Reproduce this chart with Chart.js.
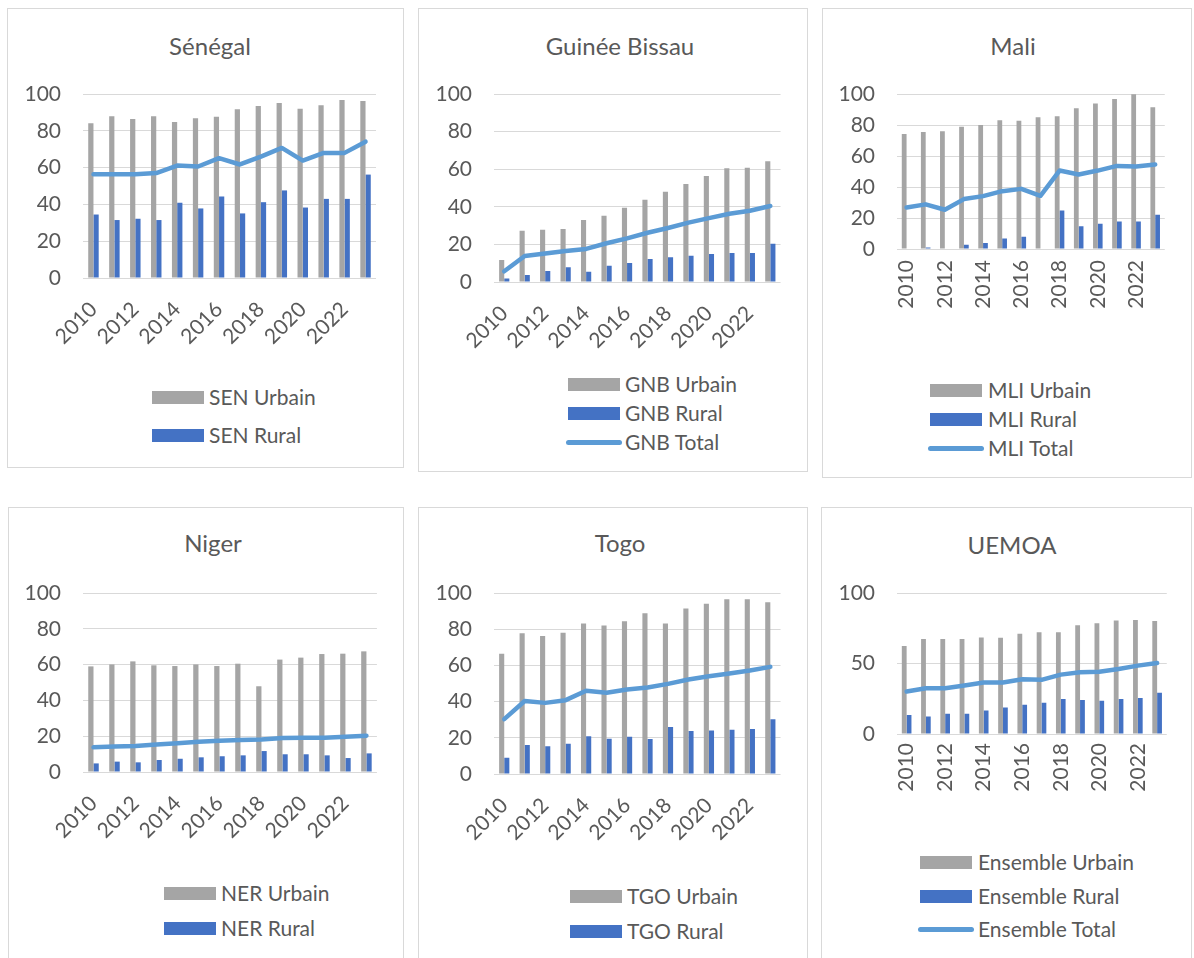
<!DOCTYPE html>
<html lang="fr">
<head>
<meta charset="utf-8">
<title>Urbain / Rural / Total – UEMOA</title>
<script src="https://cdn.jsdelivr.net/npm/chart.js@4.4.1/dist/chart.umd.min.js"></script>
<style>
  body { margin: 0; background: #fff; width: 1194px; height: 958px; overflow: hidden; position: relative; font-family: Lato, "Open Sans", sans-serif; color: #595959; }
  .panel { position: absolute; border: 1.5px solid #d9d9d9; box-sizing: border-box; }
  canvas { position: absolute; }
  .ttl { position: absolute; font-size: 24px; line-height: 1; white-space: nowrap; transform: translate(-50%, -50%); }
  .sw { position: absolute; height: 13px; width: 52px; }
  .sw.line { height: 5px; width: 56px; border-radius: 3px; }
  .lt { position: absolute; font-size: 21px; line-height: 24px; white-space: nowrap; }
</style>
</head>
<body>
<script>
const years = ["2010", "2011", "2012", "2013", "2014", "2015", "2016", "2017", "2018", "2019", "2020", "2021", "2022", "2023"];

// Sénégal
const senUrbain = [84.1, 87.9, 86.4, 87.9, 84.8, 86.8, 87.7, 91.7, 93.5, 95.1, 92.0, 93.9, 96.7, 96.2];
const senRural = [34.5, 31.5, 32.2, 31.5, 40.9, 37.8, 44.3, 35.1, 41.2, 47.6, 38.3, 43.0, 43.0, 56.2];
const senTotal = [56.4, 56.4, 56.4, 57.0, 61.1, 60.6, 65.1, 61.7, 66.0, 70.7, 63.8, 68.0, 68.0, 74.1];

// Guinée Bissau
const gnbUrbain = [11.7, 27.3, 27.8, 28.2, 33.0, 35.3, 39.5, 43.8, 48.0, 52.1, 56.4, 60.5, 60.8, 64.2];
const gnbRural = [1.8, 3.7, 5.9, 7.8, 5.5, 8.7, 10.1, 12.2, 13.1, 14.0, 14.9, 15.4, 15.4, 20.4];
const gnbTotal = [5.7, 13.8, 15.2, 16.5, 17.6, 20.6, 23.2, 26.2, 28.7, 31.6, 34.0, 36.3, 37.9, 40.4];

// Mali
const mliUrbain = [74.2, 75.5, 75.9, 78.8, 80.0, 83.0, 82.8, 85.0, 85.6, 90.8, 93.8, 96.8, 99.8, 91.4];
const mliRural = [null, 0.9, null, 2.8, 3.9, 6.7, 7.9, null, 24.9, 14.6, 16.3, 17.8, 17.8, 22.1];
const mliTotal = [26.8, 28.8, 25.3, 32.2, 34.1, 37.3, 38.8, 34.3, 50.6, 48.1, 50.6, 53.6, 53.2, 54.5];

// Niger
const nerUrbain = [59.0, 60.1, 61.8, 59.6, 59.2, 60.1, 59.2, 60.5, 47.9, 62.8, 63.9, 65.9, 66.1, 67.4];
const nerRural = [4.8, 5.8, 5.4, 6.7, 7.4, 8.2, 8.8, 9.3, 11.7, 9.9, 9.9, 9.3, 7.8, 10.4];
const nerTotal = [13.8, 14.3, 14.5, 15.3, 16.0, 16.9, 17.5, 17.9, 18.1, 19.0, 19.2, 19.2, 19.7, 20.3];

// Togo
const tgoUrbain = [66.4, 77.8, 76.3, 78.1, 83.1, 82.0, 84.4, 88.8, 83.1, 91.5, 94.1, 96.5, 96.5, 94.9];
const tgoRural = [9.0, 16.0, 15.4, 16.7, 20.8, 19.5, 20.6, 19.3, 25.9, 23.7, 24.1, 24.4, 24.8, 30.3];
const tgoTotal = [30.3, 40.3, 39.3, 40.8, 46.0, 44.9, 46.7, 47.8, 49.8, 52.2, 54.0, 55.5, 57.2, 59.2];

// UEMOA (ensemble)
const uemUrbain = [62.4, 67.3, 67.3, 67.3, 68.5, 68.2, 71.1, 72.2, 72.2, 77.2, 78.6, 80.5, 80.9, 80.2];
const uemRural = [13.4, 12.5, 14.4, 14.4, 16.7, 18.8, 20.7, 22.1, 24.9, 24.2, 23.5, 24.9, 25.6, 29.2];
const uemTotal = [30.1, 32.5, 32.5, 34.4, 36.5, 36.5, 38.8, 38.4, 42.1, 43.8, 44.2, 46.1, 48.5, 50.4];

const yTicksStep = { sen: 20, gnb: 20, mli: 20, ner: 20, tgo: 20, uem: 50 };

const COL_URB = "#a5a5a5";
const COL_RUR = "#4472c4";
const COL_TOT = "#5b9bd5";

Chart.defaults.font.family = "Lato, 'Open Sans', sans-serif";
Chart.defaults.color = "#595959";

// mise en page des 6 cadres (pixels de la page)
const panels = [
  { id: "sen", title: "Sénégal", box: [7, 8, 404, 468], plot: [83, 94, 376, 278], tx: 210, ty: 46, bottom: 365, rot: 45, xpad: 19,
    data: [senUrbain, senRural, senTotal], names: ["SEN Urbain", "SEN Rural", "SEN Total"], leg: { x: 152, t: 209, rows: [397, 435] } },
  { id: "gnb", title: "Guinée Bissau", box: [418, 8, 808, 472], plot: [494, 94, 784, 282], tx: 620, ty: 46, bottom: 365, rot: 45, xpad: 19,
    data: [gnbUrbain, gnbRural, gnbTotal], names: ["GNB Urbain", "GNB Rural", "GNB Total"], leg: { x: 568, t: 625, rows: [384, 413, 442] } },
  { id: "mli", title: "Mali", box: [822, 8, 1192, 478], plot: [897, 94, 1175, 249], tx: 1013, ty: 46, bottom: 325, rot: 90, xpad: 11,
    data: [mliUrbain, mliRural, mliTotal], names: ["MLI Urbain", "MLI Rural", "MLI Total"], leg: { x: 930, t: 988, rows: [390, 419, 448] } },
  { id: "ner", title: "Niger", box: [8, 507, 404, 970], plot: [83, 593, 383, 772], tx: 213, ty: 543, bottom: 860, rot: 45, xpad: 19,
    data: [nerUrbain, nerRural, nerTotal], names: ["NER Urbain", "NER Rural", "NER Total"], leg: { x: 164, t: 221, rows: [893, 928] } },
  { id: "tgo", title: "Togo", box: [418, 507, 808, 970], plot: [494, 593, 784, 774], tx: 620, ty: 543, bottom: 862, rot: 45, xpad: 19,
    data: [tgoUrbain, tgoRural, tgoTotal], names: ["TGO Urbain", "TGO Rural", "TGO Total"], leg: { x: 570, t: 627, rows: [896, 931] } },
  { id: "uem", title: "UEMOA", box: [821, 507, 1192, 970], plot: [897, 593, 1173, 734], tx: 1012, ty: 545, bottom: 810, rot: 90, xpad: 9,
    data: [uemUrbain, uemRural, uemTotal], names: ["Ensemble Urbain", "Ensemble Rural", "Ensemble Total"], leg: { x: 920, t: 978, rows: [862, 896, 929] } }
];

function addDiv(cls, left, top, text) {
  const d = document.createElement("div");
  d.className = cls;
  d.style.left = left + "px";
  d.style.top = top + "px";
  if (text) d.textContent = text;
  document.body.appendChild(d);
  return d;
}

panels.forEach((p) => {
  const [bl, bt, br, bb] = p.box;
  const [pl0, pt0, pr0, pb0] = p.plot;

  const frame = addDiv("panel", bl, bt);
  frame.style.width = br - bl + "px";
  frame.style.height = bb - bt + "px";

  addDiv("ttl", p.tx, p.ty, p.title);

  const canvas = document.createElement("canvas");
  canvas.width = br - bl;
  canvas.height = p.bottom - bt;
  canvas.style.left = bl + "px";
  canvas.style.top = bt + "px";
  document.body.appendChild(canvas);

  const yW = pl0 - bl;
  const xH = p.bottom - pb0;

  new Chart(canvas.getContext("2d"), {
    type: "bar",
    data: {
      labels: years,
      datasets: [
        {
          type: "line",
          label: p.names[2],
          data: p.data[2],
          borderColor: COL_TOT,
          backgroundColor: COL_TOT,
          borderWidth: 4.5,
          pointRadius: 0,
          tension: 0,
          borderCapStyle: "round",
          borderJoinStyle: "round",
          order: 0,
        },
        {
          label: p.names[0],
          data: p.data[0],
          backgroundColor: COL_URB,
          categoryPercentage: 0.5,
          barPercentage: 1,
          order: 1,
        },
        {
          label: p.names[1],
          data: p.data[1],
          backgroundColor: COL_RUR,
          categoryPercentage: 0.5,
          barPercentage: 1,
          order: 2,
        },
      ],
    },
    options: {
      responsive: false,
      animation: false,
      devicePixelRatio: 1,
      layout: { padding: { left: 0, right: br - pr0, top: pt0 - bt, bottom: 0 } },
      plugins: {
        legend: { display: false },
        tooltip: { enabled: false },
      },
      scales: {
        x: {
          grid: { display: false, drawTicks: false },
          border: { display: false },
          ticks: {
            autoSkip: false,
            minRotation: p.rot,
            maxRotation: p.rot,
            padding: p.xpad,
            font: { size: 21 },
            callback: (v, i) => (i % 2 === 0 ? years[i] : ""),
          },
          afterFit: (scale) => { scale.height = xH; },
        },
        y: {
          min: 0,
          max: 100,
          grid: { color: "#d9d9d9", lineWidth: 1, drawTicks: false },
          border: { display: false },
          ticks: { stepSize: yTicksStep[p.id], padding: 22, font: { size: 21 } },
          afterFit: (scale) => { scale.width = yW; },
        },
      },
    },
  });

  // légende
  const cols = [COL_URB, COL_RUR, COL_TOT];
  p.leg.rows.forEach((y, i) => {
    const sw = i === 2
      ? addDiv("sw line", p.leg.x - 2, y - 2.5)
      : addDiv("sw", p.leg.x, y - 6.5);
    sw.style.background = cols[i];
    addDiv("lt", p.leg.t, y - 12, p.names[i]);
  });
});
</script>
</body>
</html>
